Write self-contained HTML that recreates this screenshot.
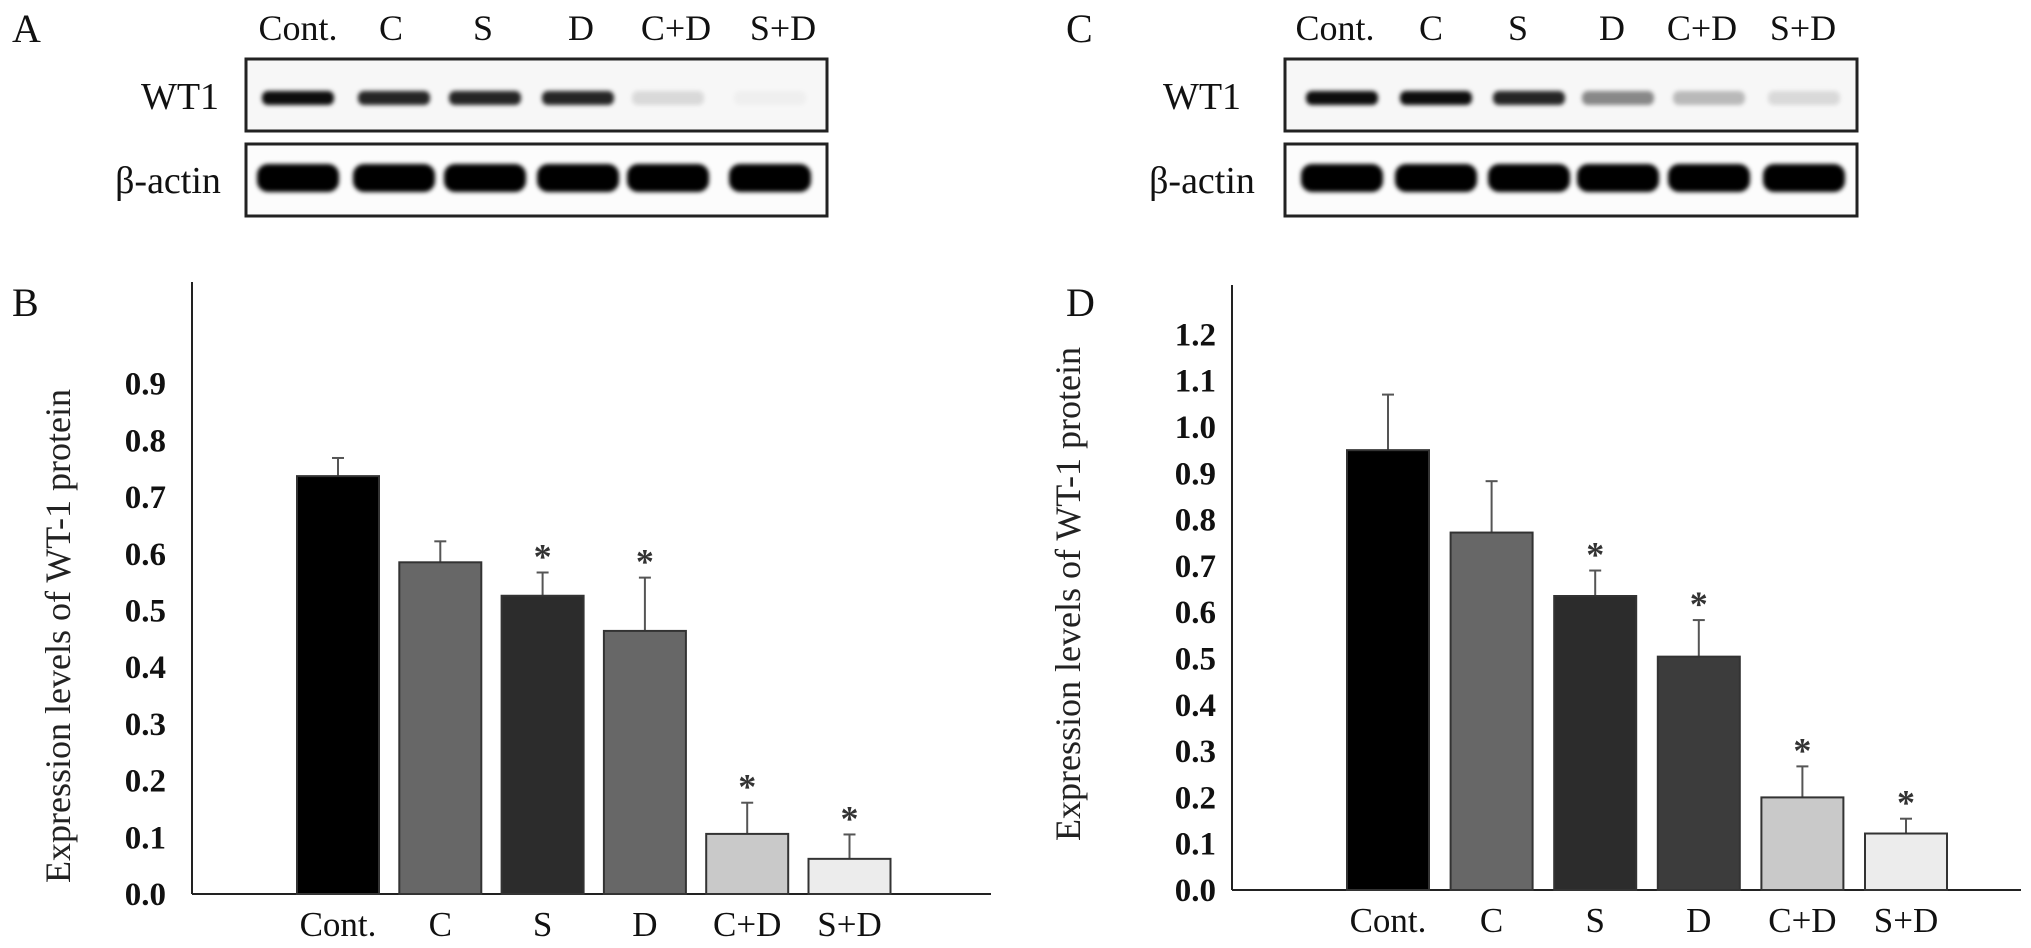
<!DOCTYPE html>
<html><head><meta charset="utf-8"><style>
html,body{margin:0;padding:0;background:#fff}
svg{display:block;font-family:"Liberation Serif",serif}
</style></head><body>
<svg id="fig" width="2031" height="948" viewBox="0 0 2031 948">
<defs><filter id="blur" x="-20%" y="-50%" width="140%" height="200%"><feGaussianBlur stdDeviation="2"/></filter></defs>
<g id="root"></g>
</svg>
<script>
const categories = ["Cont.","C","S","D","C+D","S+D"];
const valuesB = [0.737,0.585,0.526,0.464,0.106,0.062];
const errorsB = [0.032,0.037,0.041,0.094,0.055,0.043];
const starsB = [false,false,true,true,true,true];
const ticksB = ["0.0","0.1","0.2","0.3","0.4","0.5","0.6","0.7","0.8","0.9"];
const valuesD = [0.95,0.772,0.635,0.504,0.20,0.122];
const errorsD = [0.12,0.111,0.055,0.079,0.067,0.032];
const starsD = [false,false,true,true,true,true];
const ticksD = ["0.0","0.1","0.2","0.3","0.4","0.5","0.6","0.7","0.8","0.9","1.0","1.1","1.2"];
const wt1A = [0.95,0.85,0.85,0.85,0.12,0.03];
const wt1C = [0.95,0.95,0.85,0.45,0.25,0.12];

const NS="http://www.w3.org/2000/svg";
const root=document.getElementById('root');
function el(tag,attrs,parent,text){const e=document.createElementNS(NS,tag);for(const k in attrs)e.setAttribute(k,attrs[k]);if(text!==undefined)e.textContent=text;(parent||root).appendChild(e);return e;}

const fills=["#000000","#676767","#2c2c2c","#676767","#c9c9c9","#ececec"];
const fillsD=["#000000","#676767","#2c2c2c","#3c3c3c","#c9c9c9","#ececec"];

function chart(cfg){
  const g=el('g',{});
  
  
  const y=v=>cfg.y0-v*cfg.per;
  const x=i=>cfg.bx0+i*cfg.pitch;
  const yl=el('line',{x1:cfg.ax,y1:cfg.top,x2:cfg.ax,y2:cfg.y0,stroke:'#222','stroke-width':2},g);
  
  const xl=el('line',{x1:cfg.ax,y1:cfg.y0,x2:cfg.xend,y2:cfg.y0,stroke:'#222','stroke-width':2},g);
  
  cfg.ticks.forEach((t,i)=>{
    const tx=el('text',{x:cfg.tickX,y:y(i*0.1)+11,'text-anchor':'end','font-size':33,'font-weight':'bold',fill:'#111'},g,t);
    
  });
  cfg.values.forEach((v,i)=>{
    const cx=x(i)+cfg.bw/2;
    const eb=el('line',{x1:cx,y1:y(v),x2:cx,y2:y(v+cfg.errors[i]),stroke:'#555','stroke-width':2},g);
    
    const cap=el('line',{x1:cx-6,y1:y(v+cfg.errors[i]),x2:cx+6,y2:y(v+cfg.errors[i]),stroke:'#555','stroke-width':2},g);
    
    const r=el('rect',{x:x(i),y:y(v),width:cfg.bw,height:v*cfg.per,fill:cfg.fills[i],stroke:'#333','stroke-width':2},g);
    
    
    if(cfg.stars[i]){
      const s=el('text',{x:cx,y:y(v+cfg.errors[i])-4,'text-anchor':'middle','font-size':36,'font-weight':'bold',fill:'#333'},g,'*');
      
    }
    const lab=el('text',{x:cx,y:cfg.y0+42,'text-anchor':'middle','font-size':35,fill:'#111'},g,categories[i]);
    
  });
  const t=el('text',{x:cfg.titleX,y:cfg.titleY,'text-anchor':'middle','font-size':36,fill:'#222',transform:`rotate(-90 ${cfg.titleX} ${cfg.titleY})`},g,'Expression levels of WT-1 protein');
  
}

function blot(cfg){
  const g=el('g',{});
  
  
  const b1=el('rect',{x:cfg.bx,y:59,width:cfg.bw,height:72,fill:'#f7f7f7',stroke:'#222','stroke-width':3},g);
  
  const b2=el('rect',{x:cfg.bx,y:144,width:cfg.bw,height:72,fill:'#fcfcfc',stroke:'#222','stroke-width':3},g);
  
  cfg.wt.forEach((w,i)=>{
    const c=cfg.laneX[i];
    const e=el('rect',{x:c-36,y:91,width:72,height:14,rx:6,fill:`rgba(0,0,0,${w})`,filter:'url(#blur)'},g);
    
    const a=el('rect',{x:c-41,y:164,width:82,height:28,rx:11,fill:'#000',filter:'url(#blur)'},g);
    
    const l=el('text',{x:cfg.labX[i],y:40,'text-anchor':'middle','font-size':36,fill:'#111'},g,categories[i]);
    
  });
  const w1=el('text',{x:cfg.wtX,y:109,'text-anchor':'middle','font-size':38,fill:'#111'},g,'WT1');
  
  const w2=el('text',{x:cfg.rowX,y:193,'text-anchor':'middle','font-size':38,fill:'#111'},g,'β-actin');
  
}

blot({name:'blot-a',bx:246,bw:581,wt:wt1A,laneX:[298,394,485,578,668,770],labX:[298,391,483,581,676,783],rowX:168,wtX:180});
blot({name:'blot-c',bx:1285,bw:572,wt:wt1C,laneX:[1342,1436,1529,1618,1709,1804],labX:[1335,1431,1518,1612,1702,1803],rowX:1202,wtX:1202});

chart({name:'chart-b',ax:192,top:282,y0:894,xend:991,per:567,values:valuesB,errors:errorsB,stars:starsB,ticks:ticksB,bx0:297,pitch:102.3,bw:82,fills:fills,tickX:166,titleX:70,titleY:636});
chart({name:'chart-d',ax:1232,top:285,y0:890,xend:2021,per:463,values:valuesD,errors:errorsD,stars:starsD,ticks:ticksD,bx0:1347,pitch:103.6,bw:82,fills:fillsD,tickX:1216,titleX:1080,titleY:594});

[['A',12,42],['B',12,316],['C',1066,42],['D',1066,316]].forEach(p=>{
  const t=el('text',{x:p[1],y:p[2],'font-size':40,fill:'#111'},root,p[0]);
  
  
});
</script>
</body></html>
